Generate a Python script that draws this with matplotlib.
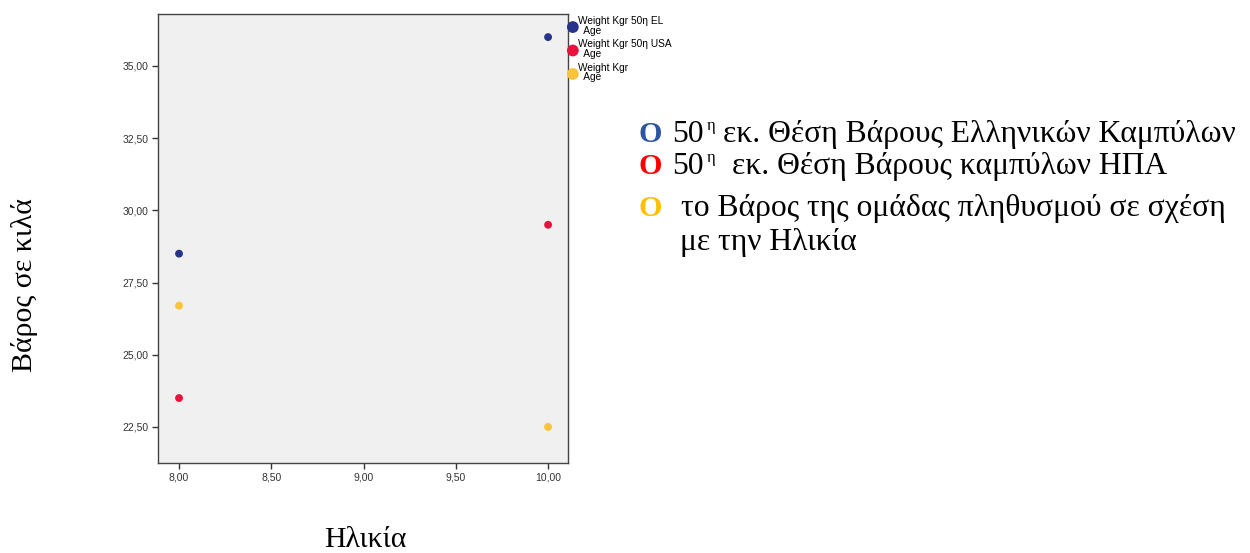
import matplotlib.pyplot as plt
from matplotlib.ticker import FuncFormatter

ages = [8.0, 10.0]
w_el = [28.5, 36.0]
w_usa = [23.5, 29.5]
w_grp = [26.7, 22.5]

series_labels = ["Weight Kgr 50η EL\n  Age", "Weight Kgr 50η USA\n  Age", "Weight Kgr\n  Age"]
colors = ["#26338a", "#e8133c", "#f9c33a"]

xticks = [8.0, 8.5, 9.0, 9.5, 10.0]
yticks = [22.5, 25.0, 27.5, 30.0, 32.5, 35.0]

fig = plt.figure(figsize=(12.5, 5.53), dpi=100)
ax = fig.add_axes([158 / 1250, 1 - 463 / 553, 410 / 1250, 449 / 553])
ax.set_facecolor("#f0f0f0")

for ys, c, lab in zip([w_el, w_usa, w_grp], colors, series_labels):
    ax.scatter(ages, ys, s=32, color=c, edgecolors="none", label=lab, zorder=3)

ax.set_xlim(7.886, 10.108)
ax.set_ylim(21.25, 36.8)
ax.set_xticks(xticks)
ax.set_yticks(yticks)
fmt = FuncFormatter(lambda v, p: f"{v:.2f}".replace(".", ","))
ax.xaxis.set_major_formatter(fmt)
ax.yaxis.set_major_formatter(fmt)
ax.tick_params(labelsize=7.5, length=4, width=1, color="#333333", labelcolor="#333333",
               pad=3)
for t in ax.get_xticklabels() + ax.get_yticklabels():
    t.set_family("Liberation Sans")
for sp in ax.spines.values():
    sp.set_color("#444444")
    sp.set_linewidth(1)

leg = ax.legend(loc="upper left", bbox_to_anchor=(0.997, 0.998), frameon=False,
                markerscale=1.5, handletextpad=0.05, borderaxespad=0,
                borderpad=0.1, handlelength=1.0, labelspacing=0.38,
                prop={"family": "Liberation Sans", "size": 7.3})
for t in leg.get_texts():
    t.set_linespacing(0.95)

serif = "Liberation Serif"
fig.text(25 / 1250, 1 - 285 / 553, "Βάρος σε κιλά", rotation=90, ha="center",
         va="center", family=serif, fontsize=21.5)
fig.text(365 / 1250, 1 - 547 / 553, "Ηλικία", ha="center", va="baseline",
         family=serif, fontsize=21.5)

# annotation text on the right
fs = 22.8
mark_colors = ["#2e56a0", "#ff0000", "#ffc000"]
baselines = [142, 174, 216, 250]
for y, mc in zip(baselines[:3], mark_colors):
    fig.text(639 / 1250, 1 - y / 553, "O", color=mc, family=serif, fontsize=fs - 1,
             fontweight="bold", va="baseline")
for y in baselines[:2]:
    fig.text(672 / 1250, 1 - y / 553, "50", family=serif, fontsize=fs, va="baseline")
    fig.text(707 / 1250, 1 - (y - 12) / 553, "η", family=serif, fontsize=12,
             va="baseline")
fig.text(723 / 1250, 1 - baselines[0] / 553, "εκ. Θέση Βάρους Ελληνικών Καμπύλων",
         family=serif, fontsize=fs, va="baseline")
fig.text(732 / 1250, 1 - baselines[1] / 553, "εκ. Θέση Βάρους καμπύλων ΗΠΑ",
         family=serif, fontsize=fs, va="baseline")
fig.text(681 / 1250, 1 - baselines[2] / 553, "το Βάρος της ομάδας πληθυσμού σε σχέση",
         family=serif, fontsize=fs, va="baseline")
fig.text(680 / 1250, 1 - baselines[3] / 553, "με την Ηλικία",
         family=serif, fontsize=fs, va="baseline")

fig.savefig("out.png", dpi=100)
